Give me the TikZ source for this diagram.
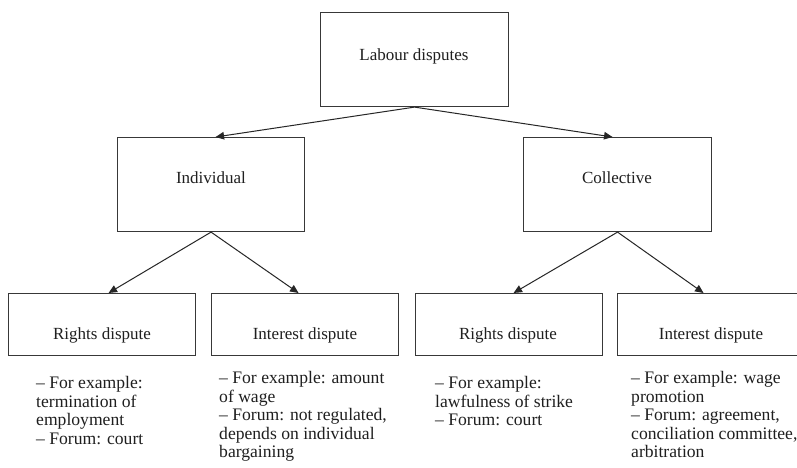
\documentclass[tikz,border=0pt]{standalone}
\usepackage{fontspec}
\setmainfont{Liberation Serif}
\usetikzlibrary{arrows.meta,calc}
\begin{document}
\begin{tikzpicture}[x=1pt,y=-1pt,
  box/.style={draw=black!78,line width=1.1pt,inner sep=0pt,anchor=north west,minimum height=#1},
  box/.default=94pt,
  lbl/.style={anchor=base,inner sep=0pt,text=black!88,font=\rmfamily\fontsize{17}{18}\selectfont},
  note/.style={anchor=north west,inner sep=0pt,align=left,text=black!88,font=\rmfamily\fontsize{17.6}{18.6}\selectfont},
  arr/.style={draw=black!85,line width=1pt,-{Triangle[length=8.5pt,width=7.5pt]}}]
\clip (0,0) rectangle (797,467);
\fill[white] (0,0) rectangle (797,467);
% boxes
\node[box,minimum width=188pt] (top) at (320,12) {};
\node[box,minimum width=187pt] (ind) at (117,137) {};
\node[box,minimum width=188pt] (col) at (523,137) {};
\node[box=62pt,minimum width=187pt] (l1) at (8,293) {};
\node[box=62pt,minimum width=187pt] (l2) at (211,293) {};
\node[box=62pt,minimum width=187pt] (l3) at (415,293) {};
\node[box=62pt,minimum width=188pt] (l4) at (617,293) {};
% labels
\node[lbl] (topt) at (414,60) {Labour disputes};
\node[lbl] (indt) at (211,183) {Individual};
\node[lbl] (colt) at (617,183) {Collective};
\node[lbl] (l1t) at (102,339) {Rights dispute};
\node[lbl] (l2t) at (305,339) {Interest dispute};
\node[lbl] (l3t) at (508,339) {Rights dispute};
\node[lbl] (l4t) at (711,339) {Interest dispute};
% connectors
\draw[arr] (top.south) -- ($(ind.north)+(4.5,0)$);
\draw[arr] (top.south) -- ($(col.north)+(-5,0)$);
\draw[arr] (ind.south) -- ($(l1.north)+(6.5,0)$);
\draw[arr] (ind.south) -- ($(l2.north)+(-6.5,0)$);
\draw[arr] (col.south) -- ($(l3.north)+(4.5,0)$);
\draw[arr] (col.south) -- ($(l4.north)+(-8,0)$);
% notes
\node[note] (n1) at (36,376) {-- For example:\\termination of\\employment\\-- Forum: court};
\node[note] (n2) at (219,371) {-- For example: amount\\of wage\\-- Forum: not regulated,\\depends on individual\\bargaining};
\node[note] (n3) at (435,376) {-- For example:\\lawfulness of strike\\-- Forum: court};
\node[note] (n4) at (631,371) {-- For example: wage\\promotion\\-- Forum: agreement,\\conciliation committee,\\arbitration};
\end{tikzpicture}
\end{document}
